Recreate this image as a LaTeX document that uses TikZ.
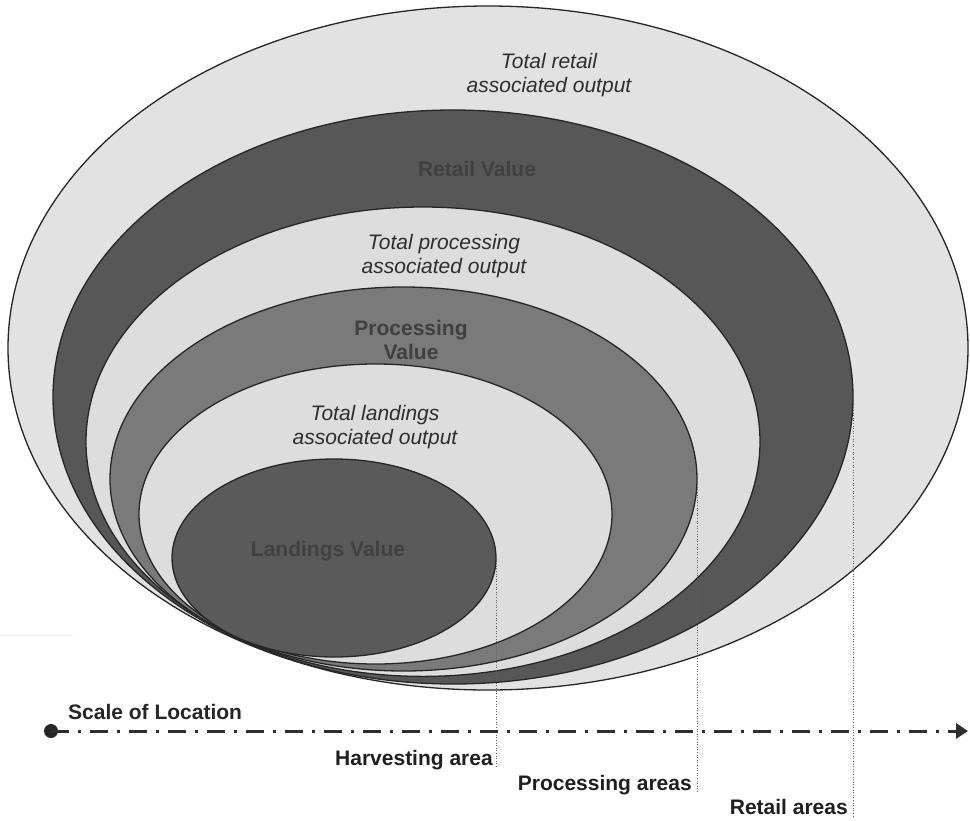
\documentclass[tikz,border=0pt]{standalone}
\usepackage{fontspec}
\setmainfont{Liberation Sans}
\usetikzlibrary{arrows.meta}
\definecolor{palering}{HTML}{E2E2E2}
\definecolor{lightring}{HTML}{DDDDDD}
\definecolor{darkring}{HTML}{575757}
\definecolor{midring}{HTML}{7A7A7A}
\definecolor{coreval}{HTML}{5A5A5A}
\begin{document}
\begin{tikzpicture}[x=1pt,y=-1pt,
  ring/.style={draw=black!85, line width=1.3pt},
  itl/.style={font=\fontsize{21}{24}\selectfont\itshape, text=black!82, align=center},
  val/.style={font=\fontsize{21}{24}\selectfont\bfseries, text=black!75, align=center},
  arealbl/.style={font=\fontsize{21}{24}\selectfont\bfseries, text=black!88, anchor=east, inner sep=0pt},
  guide/.style={draw=black!62, line width=1pt, dash pattern=on 1pt off 1.6pt},
  axisline/.style={draw=black!82, line width=3pt, dash pattern=on 18pt off 9pt on 3pt off 9pt}]
\useasboundingbox (0,0) rectangle (970,820);

% faint scan artifact
\draw[black!8, line width=1pt] (0,635) -- (73,635);

% nested ellipses
\filldraw[ring, fill=palering]  (488,348)   ellipse [x radius=480pt,   y radius=342pt];
\filldraw[ring, fill=darkring]  (453,397)   ellipse [x radius=400pt,   y radius=287pt];
\filldraw[ring, fill=lightring] (423,441.7) ellipse [x radius=337pt,   y radius=234.7pt];
\filldraw[ring, fill=midring]   (403.5,479) ellipse [x radius=293.5pt, y radius=192pt];
\filldraw[ring, fill=lightring] (375.5,514) ellipse [x radius=236.5pt, y radius=150pt];
\filldraw[ring, fill=coreval]   (334,558)   ellipse [x radius=162pt,   y radius=99pt];

% texts inside the ellipses
\node[itl] (tro) at (549,75)  {Total retail\\associated output};
\node[val] (rv)  at (477,169) {Retail Value};
\node[itl] (tpo) at (444,256) {Total processing\\associated output};
\node[val] (pv)  at (411,340) {Processing\\Value};
\node[itl] (tlo) at (375,427) {Total landings\\associated output};
\node[val] (lv)  at (328,551) {Landings Value};

% guide lines
\coordinate (hTop) at (496,558);
\coordinate (hBot) at (496,768);
\coordinate (pTop) at (697,479);
\coordinate (pBot) at (697,793);
\coordinate (rTop) at (853,397);
\coordinate (rBot) at (853,817);
\draw[guide] (hTop) -- (hBot);
\draw[guide] (pTop) -- (pBot);
\draw[guide] (rTop) -- (rBot);

% scale axis
\node[circle, fill=black!85, inner sep=0pt, minimum size=14pt] (start) at (51,731) {};
\coordinate (finish) at (968,731);
\draw[axisline, -{Triangle[length=12pt,width=15pt]}] (start.center) -- (finish);
\node[font=\fontsize{21}{24}\selectfont\bfseries, text=black!85, anchor=west, inner sep=0pt] (scale) at (68,712) {Scale of Location};

% area labels
\node[arealbl] (harv) at (493,760) {Harvesting area};
\node[arealbl] (proc) at (692,785) {Processing areas};
\node[arealbl] (reta) at (848,807) {Retail areas};
\end{tikzpicture}
\end{document}
